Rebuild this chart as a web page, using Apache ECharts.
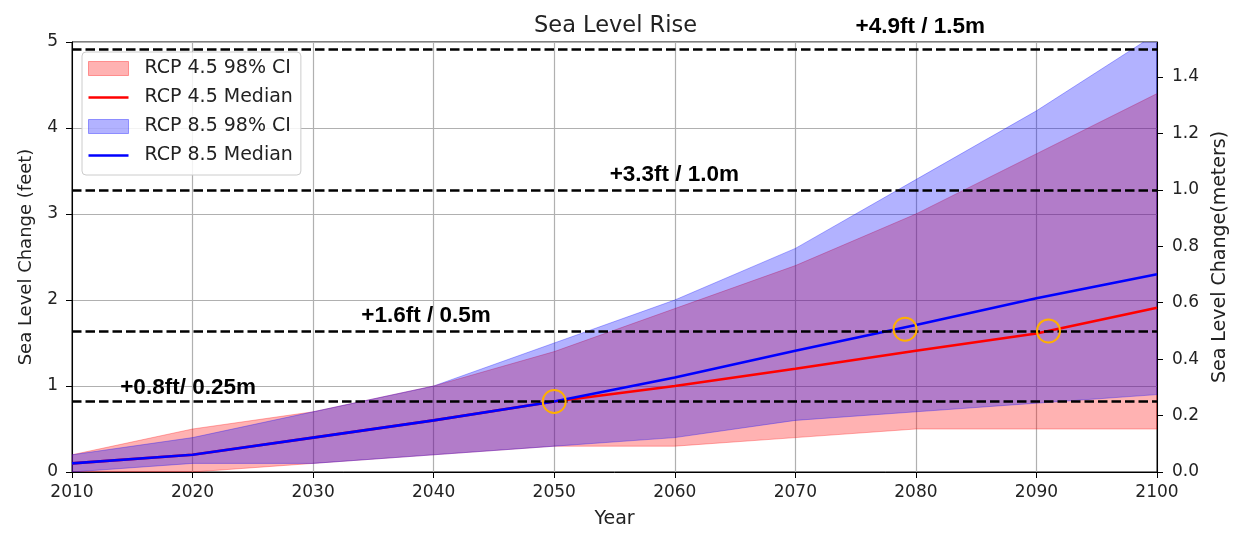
<!DOCTYPE html>
<html>
<head>
<meta charset="utf-8">
<script src="https://cdn.jsdelivr.net/npm/echarts@6.0.0/dist/echarts.min.js"></script>
<style>
  html, body { margin: 0; padding: 0; background: #fff; }
  #chart { width: 1248px; height: 536px; }
</style>
</head>
<body>
<div id="chart"></div>
<script>
// values in feet
var years = [2010, 2020, 2030, 2040, 2050, 2060, 2070, 2080, 2090, 2100];
var rcp45Median = [0.1, 0.2, 0.4, 0.6, 0.82, 1.0, 1.2, 1.41, 1.61, 1.91];
var rcp45Low = [0.0, 0.0, 0.1, 0.2, 0.3, 0.3, 0.4, 0.5, 0.5, 0.5];
var rcp45High = [0.2, 0.5, 0.7, 1.0, 1.4, 1.9, 2.4, 3.0, 3.7, 4.4];
var rcp85Median = [0.1, 0.2, 0.4, 0.6, 0.82, 1.1, 1.41, 1.71, 2.02, 2.3];
var rcp85Low = [0.0, 0.1, 0.1, 0.2, 0.3, 0.4, 0.6, 0.7, 0.8, 0.9];
var rcp85High = [0.2, 0.4, 0.7, 1.0, 1.5, 2.0, 2.6, 3.4, 4.2, 5.1];

// reference levels (ft) and their labels
var refLevels = [0.82, 1.64, 3.28, 4.92];
var refLabels = ['+0.8ft/ 0.25m', '+1.6ft / 0.5m', '+3.3ft / 1.0m', '+4.9ft / 1.5m'];
var refLabelYears = [2014, 2034, 2054.6, 2075];

// crossing points marked with circles
var crossYears = [2050, 2079.1, 2091];
var crossLevels = [0.82, 1.66, 1.64];

var FT_PER_M = 3.28084;
var yMaxFt = 5;

// how far each level label sits above its line (px)
var labelLift = [14, 15, 15, 22];

function pairs(xs, ys) {
  return xs.map(function (x, i) { return [x, ys[i]]; });
}

var tickFont = { fontFamily: 'DejaVu Sans', fontSize: 17, color: '#222' };
var nameFont = { fontFamily: 'DejaVu Sans', fontSize: 19, color: '#222' };
var redFill = 'rgba(255,0,0,0.3)';
var blueFill = 'rgba(0,0,255,0.3)';

// filled band between lo and hi, drawn once through the axis scales
function band(name, lo, hi, fill, z) {
  return {
    name: name,
    type: 'custom',
    z: z,
    clip: true,
    silent: true,
    itemStyle: { color: fill },
    data: years.map(function (y, i) { return [y, lo[i], hi[i]]; }),
    encode: { x: 0, y: [1, 2] },
    renderItem: function (params, api) {
      if (params.dataIndex !== 0) return;
      var pts = [];
      for (var i = 0; i < years.length; i++) pts.push(api.coord([years[i], hi[i]]));
      for (var j = years.length - 1; j >= 0; j--) pts.push(api.coord([years[j], lo[j]]));
      var cs = params.coordSys;
      return {
        type: 'polygon',
        shape: { points: pts },
        clipPath: { type: 'rect', shape: { x: cs.x, y: cs.y, width: cs.width, height: cs.height } },
        style: { fill: fill, stroke: fill, lineWidth: 1 }
      };
    }
  };
}

var chart = echarts.init(document.getElementById('chart'));

var option = {
  backgroundColor: '#fff',
  animation: false,
  title: {
    text: 'Sea Level Rise',
    left: 529,
    top: 10,
    textStyle: { fontFamily: 'DejaVu Sans', fontSize: 22.5, fontWeight: 'normal', color: '#222' }
  },
  legend: {
    orient: 'vertical',
    left: 82,
    top: 52,
    itemWidth: 40,
    itemHeight: 14,
    itemGap: 10,
    padding: [7, 8, 10, 6],
    borderColor: '#ccc',
    borderWidth: 1,
    borderRadius: 4,
    backgroundColor: 'rgba(255,255,255,0.85)',
    textStyle: { fontFamily: 'DejaVu Sans', fontSize: 19, color: '#222', padding: [0, 0, 0, 11] },
    data: [
      { name: 'RCP 4.5 98% CI', icon: 'rect', itemStyle: { color: redFill, borderColor: 'rgba(255,0,0,0.35)', borderWidth: 1 } },
      { name: 'RCP 4.5 Median', icon: 'path://M0,0 H40 V2.6 H0 Z', itemStyle: { color: '#ff0000' } },
      { name: 'RCP 8.5 98% CI', icon: 'rect', itemStyle: { color: blueFill, borderColor: 'rgba(0,0,255,0.35)', borderWidth: 1 } },
      { name: 'RCP 8.5 Median', icon: 'path://M0,0 H40 V2.6 H0 Z', itemStyle: { color: '#0000ff' } }
    ]
  },
  grid: {
    left: 72, right: 91, top: 42, bottom: 64,
    show: true, borderColor: '#000', borderWidth: 1, backgroundColor: 'transparent'
  },
  xAxis: {
    type: 'value',
    min: 2010, max: 2100, interval: 10,
    name: 'Year',
    nameLocation: 'middle',
    nameGap: 38,
    nameTextStyle: nameFont,
    axisLine: { lineStyle: { color: '#000', width: 1 } },
    axisTick: { show: true, length: 6, lineStyle: { color: '#000' } },
    axisLabel: Object.assign({ margin: 12, formatter: function (v) { return String(v); } }, tickFont),
    splitLine: { show: true, lineStyle: { color: '#b0b0b0', width: 1.2 } }
  },
  yAxis: [
    {
      type: 'value',
      min: 0, max: yMaxFt, interval: 1,
      name: 'Sea Level Change (feet)',
      nameLocation: 'middle',
      nameRotate: 90,
      nameGap: 37,
      nameTextStyle: Object.assign({}, nameFont, { fontSize: 18 }),
      axisLine: { show: true, lineStyle: { color: '#000', width: 1 } },
      axisTick: { show: true, length: 6, lineStyle: { color: '#000' } },
      axisLabel: Object.assign({ margin: 14 }, tickFont),
      splitLine: { show: true, lineStyle: { color: '#b0b0b0', width: 1.2 } }
    },
    {
      type: 'value',
      position: 'right',
      min: 0, max: yMaxFt / FT_PER_M, interval: 0.2,
      name: 'Sea Level Change(meters)',
      nameLocation: 'middle',
      nameRotate: 90,
      nameGap: 54,
      nameTextStyle: nameFont,
      axisLine: { show: true, lineStyle: { color: '#000', width: 1 } },
      axisTick: { show: true, length: 6, lineStyle: { color: '#000' } },
      axisLabel: Object.assign({
        margin: 15,
        showMaxLabel: false,
        formatter: function (v) { return v > 1.45 ? '' : v.toFixed(1); }
      }, tickFont),
      splitLine: { show: false }
    }
  ],
  series: [
    band('RCP 4.5 98% CI', rcp45Low, rcp45High, redFill, 2),
    band('RCP 8.5 98% CI', rcp85Low, rcp85High, blueFill, 3),
    {
      name: 'RCP 4.5 Median', type: 'line', symbol: 'none', z: 4,
      data: pairs(years, rcp45Median),
      itemStyle: { color: '#ff0000' },
      lineStyle: { color: '#ff0000', width: 2.6 }
    },
    {
      name: 'RCP 8.5 Median', type: 'line', symbol: 'none', z: 4,
      data: pairs(years, rcp85Median),
      itemStyle: { color: '#0000ff' },
      lineStyle: { color: '#0000ff', width: 2.6 }
    },
    {
      name: 'levels', type: 'scatter', symbolSize: 0, silent: true, z: 5, clip: false,
      itemStyle: { opacity: 1 },
      data: refLabelYears.map(function (x, i) {
        return { value: [x, refLevels[i]], label: { offset: [0, -labelLift[i]] } };
      }),
      label: {
        show: true,
        position: 'right',
        distance: 0,
        formatter: function (p) { return refLabels[p.dataIndex]; },
        fontFamily: 'Liberation Sans',
        fontWeight: 'bold',
        fontSize: 22.5,
        color: '#000',
        opacity: 1
      },
      markLine: {
        silent: true,
        symbol: 'none',
        label: { show: false },
        lineStyle: { color: '#000', type: [9.5, 4], width: 2.5, opacity: 1 },
        data: refLevels.map(function (v) { return { yAxis: v }; })
      }
    },
    {
      name: 'crossings', type: 'scatter', silent: true, z: 6,
      symbol: 'circle', symbolSize: 23,
      data: pairs(crossYears, crossLevels),
      itemStyle: { color: 'rgba(0,0,0,0)', borderColor: '#ffb000', borderWidth: 2, opacity: 1 }
    }
  ]
};

chart.setOption(option);
</script>
</body>
</html>
